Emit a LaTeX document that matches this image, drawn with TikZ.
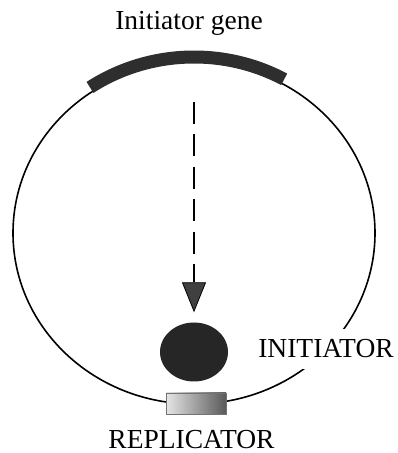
\documentclass[tikz,border=0pt]{standalone}
\usepackage{fontspec}
\setmainfont{Liberation Serif}
\usetikzlibrary{arrows.meta,shapes.geometric}

\tikzset{
  lbl/.style={font=\fontsize{27.5}{31}\selectfont, anchor=base, inner sep=0pt},
  ring/.style={draw=black, line width=1.6pt},
}

\begin{document}
\begin{tikzpicture}[x=1pt, y=1pt]
\useasboundingbox (0,0) rectangle (398,453);
% plasmid ring
\draw [ring] (194,220) ellipse [x radius=181, y radius=171];
% initiator gene
\draw [line width=13pt, draw=black!82, line cap=butt] (194,218) ++(124:186 and 178) arc [start angle=124, end angle=61, x radius=186, y radius=178];
\coordinate (gene) at (194,351);
% initiator protein and replicator
\node (ball) [ellipse, fill=black!85, minimum width=68pt, minimum height=59pt, inner sep=0pt] at (194,101) {};
\node (rep) [rectangle, left color=black!10, right color=black!65, draw=black!55, line width=0.6pt, minimum width=60pt, minimum height=21pt, inner sep=0pt] at (196,49.5) {};
\draw [line width=1.8pt, dash pattern=on 22pt off 10.5pt, shorten >=10pt, -{Triangle[width=24pt, length=30pt, fill=black!75, line width=0.8pt]}] (gene) -- (ball.north);
% labels
\node (genelbl) [lbl] at (189,423) {Initiator gene};
\node (initlbl) [lbl, fill=white, inner xsep=3pt, inner ysep=11pt] at (326,95) {INITIATOR};
\node (replbl) [lbl] at (191.5,5) {REPLICATOR};
\end{tikzpicture}
\end{document}
